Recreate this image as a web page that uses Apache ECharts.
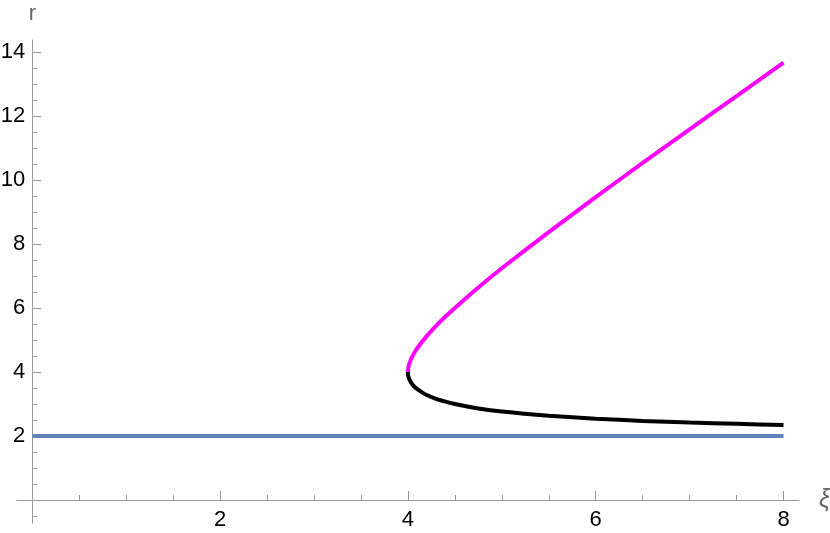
<!DOCTYPE html>
<html>
<head>
<meta charset="utf-8">
<script src="https://cdn.jsdelivr.net/npm/echarts@6/dist/echarts.min.js"></script>
<style>
html, body { margin: 0; padding: 0; background: #fff; }
#main { width: 830px; height: 533px; }
</style>
</head>
<body>
<div id="main"></div>
<script>
// branch values (xi -> r)
var xiBranch = [4, 4.001, 4.003, 4.006, 4.01, 4.02, 4.035, 4.05, 4.075, 4.1, 4.15, 4.2, 4.3, 4.4, 4.5, 4.75, 5, 5.5, 6, 6.5, 7, 7.5, 8];
var upperR = [4, 4.06, 4.11, 4.16, 4.21, 4.30, 4.41, 4.50, 4.63, 4.74, 4.94, 5.12, 5.44, 5.73, 6.0, 6.64, 7.24, 8.37, 9.46, 10.53, 11.58, 12.62, 13.66];
var lowerR = [4, 3.94, 3.89, 3.85, 3.81, 3.74, 3.66, 3.60, 3.52, 3.46, 3.36, 3.28, 3.16, 3.07, 3.0, 2.86, 2.76, 2.63, 2.54, 2.47, 2.42, 2.38, 2.34];
var xiFlat = [0, 8];
var flatR = [2, 2];

var xMajor = [2, 4, 6, 8];
var xMinor = [0.5, 1, 1.5, 2.5, 3, 3.5, 4.5, 5, 5.5, 6.5, 7, 7.5];
var yMajor = [2, 4, 6, 8, 10, 12, 14];
var yMinor = [-0.5, 0.5, 1, 1.5, 2.5, 3, 3.5, 4.5, 5, 5.5, 6.5, 7, 7.5, 8.5, 9, 9.5, 10.5, 11, 11.5, 12.5, 13, 13.5];

function pairs(xs, ys) {
	var out = [];
	for (var i = 0; i < xs.length; i++) {
		out.push([xs[i], ys[i]]);
	}
	return out;
}

var axisGray = '#999999';
var font = 'Liberation Sans, Arial, sans-serif';

var W = 830, H = 533;
var gLeft = 17, gRight = 31, gTop = 40, gBottom = 10;
var xMin = -0.163, xMax = 8.165;
var yMin = -0.72, yMax = 14.37;

// axes sit on the zero lines: pull them into the grid with a negative offset
var xOffset = -((0 - yMin) / (yMax - yMin)) * (H - gTop - gBottom);
var yOffset = -((0 - xMin) / (xMax - xMin)) * (W - gLeft - gRight);

function baseX(ticks, len, main) {
	return {
		type: 'value',
		min: xMin,
		max: xMax,
		position: 'bottom',
		offset: xOffset,
		axisLine: { show: main, onZero: false, lineStyle: { color: axisGray, width: 1 } },
		axisTick: { show: true, inside: true, length: len, customValues: ticks, lineStyle: { color: axisGray } },
		axisLabel: main ? { show: true, customValues: xMajor, margin: 9, fontSize: 22, color: '#000', fontFamily: font } : { show: false },
		splitLine: { show: false },
		name: main ? 'ξ' : '',
		nameLocation: 'end',
		nameGap: 20,
		nameMoveOverlap: false,
		nameTextStyle: { fontSize: 25, fontStyle: 'italic', color: '#666', fontFamily: font, padding: [6, 0, 0, 0] }
	};
}

function baseY(ticks, len, main) {
	return {
		type: 'value',
		min: yMin,
		max: yMax,
		position: 'left',
		offset: yOffset,
		axisLine: { show: main, onZero: false, lineStyle: { color: axisGray, width: 1 } },
		axisTick: { show: true, inside: true, length: len, customValues: ticks, lineStyle: { color: axisGray } },
		axisLabel: main ? { show: true, customValues: yMajor, margin: 7, fontSize: 22, color: '#000', fontFamily: font } : { show: false },
		splitLine: { show: false },
		name: main ? 'r' : '',
		nameLocation: 'end',
		nameGap: 15,
		nameMoveOverlap: false,
		nameTextStyle: { fontSize: 22, color: '#666', fontFamily: font, align: 'center' }
	};
}

function lineSeries(data, color) {
	return {
		type: 'line',
		data: data,
		xAxisIndex: 0,
		yAxisIndex: 0,
		showSymbol: false,
		smooth: 0.2,
		lineStyle: { color: color, width: 4 },
		itemStyle: { color: color }
	};
}

var chart = echarts.init(document.getElementById('main'), null, { renderer: 'canvas' });
chart.setOption({
	animation: false,
	backgroundColor: '#fff',
	grid: { left: gLeft, right: gRight, top: gTop, bottom: gBottom, containLabel: false, outerBoundsMode: 'none' },
	xAxis: [baseX(xMajor, 9, true), baseX(xMinor, 5, false)],
	yAxis: [baseY(yMajor, 9, true), baseY(yMinor, 5, false)],
	series: [
		lineSeries(pairs(xiFlat, flatR), '#5E81B5'),
		lineSeries(pairs(xiBranch, lowerR), '#000000'),
		lineSeries(pairs(xiBranch, upperR), '#FF00FF')
	]
});
</script>
</body>
</html>
